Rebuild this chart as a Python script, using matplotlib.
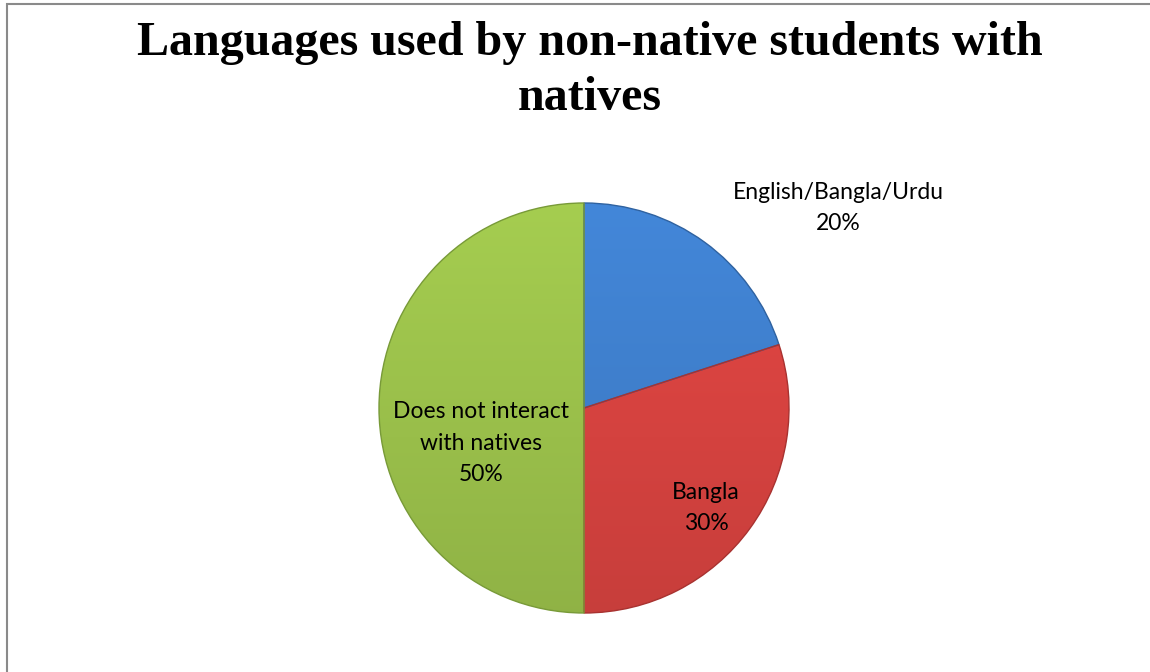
import matplotlib
matplotlib.use("Agg")
import matplotlib.pyplot as plt
import numpy as np
from matplotlib.patches import Rectangle
from matplotlib.colors import to_rgb

categories = ["English/Bangla/Urdu", "Bangla", "Does not interact\nwith natives"]
values = [20, 30, 50]
colors = ["#3E7DC9", "#D4423F", "#99BE4A"]
edge_colors = ["#2F62A0", "#A83230", "#789A38"]
title = "Languages used by non-native students with\nnatives"

W, H = 1150, 672
fig = plt.figure(figsize=(W / 100, H / 100), dpi=100)

# outer chart border
fig.patches.append(Rectangle((7 / W, -0.01), 1.2, (H - 4) / H + 0.01,
                             transform=fig.transFigure, fill=False,
                             edgecolor="#8a8a8a", linewidth=1.5))

cx, cy, r = 584, 408, 205
ax = fig.add_axes([(cx - r) / W, (H - cy - r) / H, 2 * r / W, 2 * r / H])
wedges, _ = ax.pie(values, colors=colors, startangle=90, counterclock=False,
                   radius=1.0, wedgeprops=dict(linewidth=1.0))

# subtle vertical shading on each wedge (lighter top, darker bottom)
yy = np.linspace(1, -1, 300)[:, None]
shade = 1.08 - 0.14 * (1 - yy) / 2  # 1.08 at top -> 0.94 at bottom
for w, c, ec in zip(wedges, colors, edge_colors):
    w.set_edgecolor(ec)
    base = np.array(to_rgb(c))
    img = np.clip(shade[:, :, None] * base[None, None, :], 0, 1)
    img = np.repeat(img, 2, axis=1)
    im = ax.imshow(img, extent=(-1, 1, -1, 1), origin="upper",
                   interpolation="bilinear", zorder=w.get_zorder() + 0.1, aspect="auto")
    im.set_clip_path(w)
    w.set_facecolor("none")
    w.set_zorder(w.get_zorder() + 0.2)

ax.set_xlim(-1, 1)
ax.set_ylim(-1, 1)
ax.set_aspect("equal")
ax.axis("off")

fig.text(590 / W, 1 - 70.5 / H, title, ha="center", va="center",
         family="Liberation Serif", weight="bold", fontsize=34.6,
         linespacing=1.3)

font = "Lato"
label_pos = [(838, 208), (706, 508), (481, 443)]
for (x, y), cat, v in zip(label_pos, categories, values):
    fig.text(x / W, 1 - y / H, f"{cat}\n{v}%", ha="center", va="center",
             family=font, fontsize=16.5, linespacing=1.62, color="black")

fig.savefig("out.png", dpi=100)
